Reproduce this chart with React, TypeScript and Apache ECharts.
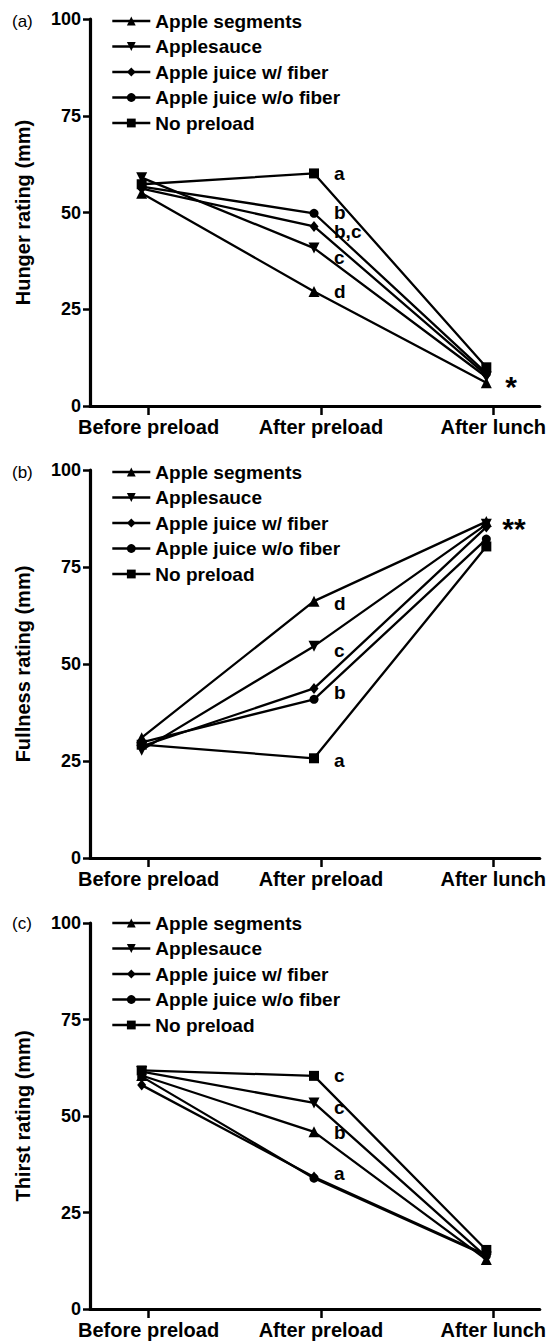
import React, { useEffect, useRef } from "react";
import * as echarts from "echarts";

// ---- Data ----
const categories = ["Before preload", "After preload", "After lunch"];
const seriesNames = [
  "Apple segments",
  "Applesauce",
  "Apple juice w/ fiber",
  "Apple juice w/o fiber",
  "No preload",
];

// (a) Hunger
const hungerSegments = [55, 29.6, 6];
const hungerApplesauce = [59, 40.8, 7.5];
const hungerJuiceFiber = [56.2, 46.4, 8];
const hungerJuiceNoFiber = [56.7, 49.8, 8.5];
const hungerNoPreload = [57.3, 60.1, 10];
const hungerLetters = ["d", "c", "b,c", "b", "a"];
const hungerLunchMark = "*";

// (b) Fullness
const fullnessSegments = [31, 66.2, 86.7];
const fullnessApplesauce = [27.8, 54.6, 86];
const fullnessJuiceFiber = [28.8, 43.7, 85.3];
const fullnessJuiceNoFiber = [29.8, 40.9, 82.2];
const fullnessNoPreload = [29.2, 25.7, 80.3];
const fullnessLetters = ["d", "c", "b", "", "a"];
const fullnessLunchMark = "**";

// (c) Thirst
const thirstSegments = [60.5, 45.9, 12.8];
const thirstApplesauce = [61.5, 53.4, 13.5];
const thirstJuiceFiber = [58, 34.2, 14];
const thirstJuiceNoFiber = [60.2, 33.9, 13.8];
const thirstNoPreload = [61.8, 60.4, 15.3];
const thirstLetters = ["b", "c", "", "a", "c"];
const thirstLunchMark = "";

const yTicks = { min: 0, max: 100, interval: 25 };

// ---- Styling ----
const FONT = '"Liberation Sans", Arial, Helvetica, sans-serif';
const symbols = ["triangle", "triangle", "diamond", "circle", "rect"];
const symbolRotates = [0, 180, 0, 0, 0];
const symbolSizes: any[] = [11, 11, [9, 11], 9, 10];
const tickOffset = 0.04;

const panels = [
  {
    tag: "(a)",
    axisName: "Hunger rating (mm)",
    values: [hungerSegments, hungerApplesauce, hungerJuiceFiber, hungerJuiceNoFiber, hungerNoPreload],
    letters: hungerLetters,
    letterDy: [0, 9, 5, -1, 0],
    mark: hungerLunchMark,
    markOffset: [19, 4],
    top: 19,
    height: 387,
    legendTop: 11.5,
  },
  {
    tag: "(b)",
    axisName: "Fullness rating (mm)",
    values: [fullnessSegments, fullnessApplesauce, fullnessJuiceFiber, fullnessJuiceNoFiber, fullnessNoPreload],
    letters: fullnessLetters,
    letterDy: [2, 4, 4, 0, 2],
    mark: fullnessLunchMark,
    markOffset: [16, 7],
    top: 470,
    height: 388,
    legendTop: 462.5,
  },
  {
    tag: "(c)",
    axisName: "Thirst rating (mm)",
    values: [thirstSegments, thirstApplesauce, thirstJuiceFiber, thirstJuiceNoFiber, thirstNoPreload],
    letters: thirstLetters,
    letterDy: [1, 5, 0, -5, 0],
    mark: thirstLunchMark,
    markOffset: [15, 2],
    top: 923,
    height: 386,
    legendTop: 913.5,
  },
];

function buildOption() {
  const tickVals = categories.map((_, i) => i + tickOffset);
  const grid: any[] = [];
  const xAxis: any[] = [];
  const yAxis: any[] = [];
  const legend: any[] = [];
  const series: any[] = [];
  const graphic: any[] = [];

  panels.forEach((p, pi) => {
    grid.push({ left: 90, right: 5, top: p.top, height: p.height, containLabel: false });
    xAxis.push({
      gridIndex: pi,
      type: "value",
      min: -0.3,
      max: 2.31,
      axisLine: { show: true, onZero: false, lineStyle: { color: "#000", width: 3.2 } },
      axisTick: { show: true, length: 9, customValues: tickVals, lineStyle: { color: "#000", width: 2.5 } },
      axisLabel: {
        customValues: tickVals,
        formatter: (v: number) => categories[Math.round(v)] || "",
        fontSize: 20,
        fontWeight: "bold",
        color: "#000",
        margin: 11,
        fontFamily: FONT,
      },
      splitLine: { show: false },
    });
    yAxis.push({
      gridIndex: pi,
      type: "value",
      min: yTicks.min,
      max: yTicks.max,
      interval: yTicks.interval,
      name: p.axisName,
      nameLocation: "middle",
      nameGap: 57,
      nameTextStyle: { fontSize: 20, fontWeight: "bold", color: "#000", fontFamily: FONT },
      axisLine: { show: true, onZero: false, lineStyle: { color: "#000", width: 3.2 } },
      axisTick: { show: true, length: 7, lineStyle: { color: "#000", width: 2.5 } },
      axisLabel: { fontSize: 18, fontWeight: "bold", color: "#000", margin: 9, fontFamily: FONT },
      splitLine: { show: false },
    });
    legend.push({
      data: seriesNames,
      orient: "vertical",
      left: 111,
      top: p.legendTop,
      padding: 0,
      itemWidth: 38,
      itemHeight: 11,
      itemGap: 6.5,
      selectedMode: false,
      lineStyle: { width: 2.6, color: "#000" },
      textStyle: { fontSize: 19, fontWeight: "bold", color: "#000", fontFamily: FONT, lineHeight: 19 },
    });
    graphic.push({
      type: "text",
      x: 12,
      y: p.legendTop + 9.5,
      style: { text: p.tag, fontSize: 17, fill: "#000", fontFamily: FONT, verticalAlign: "middle" },
    });

    seriesNames.forEach((name, si) => {
      const vals = p.values[si];
      const data = vals.map((v, ci) => {
        const item: any = { value: [ci, v] };
        if (ci === 1 && p.letters[si]) {
          item.label = { show: true, formatter: p.letters[si], offset: [20, p.letterDy[si]] };
        }
        if (ci === 2 && si === 0 && p.mark) {
          item.label = { show: true, formatter: p.mark, offset: p.markOffset, fontSize: 30 };
        }
        return item;
      });
      series.push({
        type: "line",
        name,
        xAxisIndex: pi,
        yAxisIndex: pi,
        data,
        symbol: symbols[si],
        symbolRotate: symbolRotates[si],
        symbolSize: symbolSizes[si],
        showAllSymbol: true,
        lineStyle: { color: "#000", width: 2.3 },
        itemStyle: { color: "#000", borderWidth: 0 },
        label: {
          show: false,
          position: "inside",
          align: "left",
          verticalAlign: "middle",
          fontSize: 19,
          fontWeight: "bold",
          color: "#000",
          fontFamily: FONT,
        },
        emphasis: { disabled: true },
        silent: true,
      });
    });
  });

  return {
    animation: false,
    backgroundColor: "#fff",
    grid,
    xAxis,
    yAxis,
    legend,
    series,
    graphic,
  };
}

export default function App() {
  const ref = useRef<HTMLDivElement>(null);
  useEffect(() => {
    if (!ref.current) return;
    const chart = echarts.init(ref.current, undefined, { renderer: "svg" });
    chart.setOption(buildOption() as any);
    return () => chart.dispose();
  }, []);
  return (
    <div
      ref={ref}
      style={{ position: "absolute", left: 0, top: 0, width: 549, height: 1341, background: "#fff" }}
    />
  );
}
